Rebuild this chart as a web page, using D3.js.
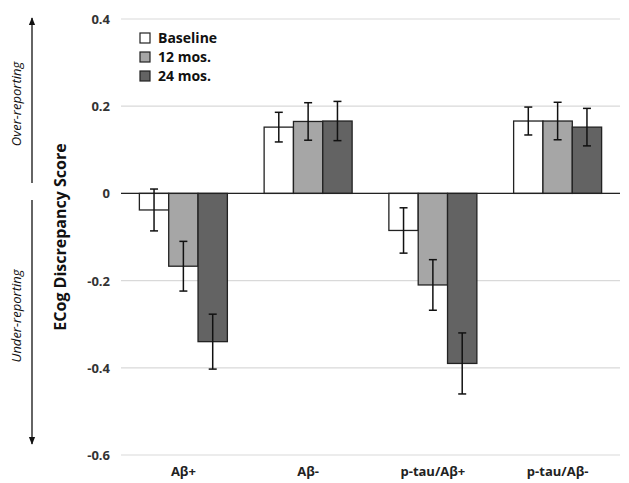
<!doctype html>
<html>
<head>
<meta charset="utf-8">
<script src="https://d3js.org/d3.v7.min.js"></script>
<style>body{margin:0;background:#fff}</style>
</head>
<body>
<svg width="629" height="483"></svg>
<script>
var categories = ["Aβ+", "Aβ-", "p-tau/Aβ+", "p-tau/Aβ-"];
var seriesNames = ["Baseline", "12 mos.", "24 mos."];
var seriesColors = ["#ffffff", "#a6a6a6", "#636363"];
var baseline = [-0.038, 0.152, -0.085, 0.166];
var mos12 = [-0.167, 0.165, -0.21, 0.166];
var mos24 = [-0.34, 0.166, -0.39, 0.152];
var errBaseline = [0.048, 0.034, 0.052, 0.032];
var err12 = [0.057, 0.043, 0.058, 0.043];
var err24 = [0.063, 0.045, 0.07, 0.043];
var yTicks = [0.4, 0.2, 0, -0.2, -0.4, -0.6];

var values = [baseline, mos12, mos24];
var errs = [errBaseline, err12, err24];

var svg = d3.select("svg");
var font = "'Open Sans', sans-serif";

var x = d3.scaleBand().domain(categories).range([121, 620]);
var xs = d3.scaleBand().domain(seriesNames).range([0, 88]);
var y = d3.scaleLinear().domain([-0.6, 0.4]).range([455, 19]);

// gridlines
svg.selectAll(".grid").data(yTicks).enter().append("line")
  .attr("x1", 121).attr("x2", 620)
  .attr("y1", function(d){ return y(d); }).attr("y2", function(d){ return y(d); })
  .attr("stroke", "#d9d9d9").attr("stroke-width", 1.2);

// y tick labels
svg.selectAll(".yt").data(yTicks).enter().append("text")
  .attr("x", 110).attr("y", function(d){ return y(d) + 5; })
  .attr("text-anchor", "end").attr("font-family", font).attr("font-weight", "bold")
  .attr("font-size", 13).attr("fill", "#333")
  .text(function(d){ return d === 0 ? "0" : d.toFixed(1); });

// bars
var flat = [];
categories.forEach(function(c, i){
  seriesNames.forEach(function(s, j){
    flat.push({c: c, s: s, v: values[j][i], e: errs[j][i], col: seriesColors[j]});
  });
});

function bx(d){ return x(d.c) + x.bandwidth()/2 - 44 + xs(d.s); }

svg.selectAll(".bar").data(flat).enter().append("rect")
  .attr("x", bx)
  .attr("y", function(d){ return y(Math.max(0, d.v)); })
  .attr("width", xs.bandwidth())
  .attr("height", function(d){ return Math.abs(y(d.v) - y(0)); })
  .attr("fill", function(d){ return d.col; })
  .attr("stroke", "#222").attr("stroke-width", 1.3);

// zero line
svg.append("line").attr("x1", 121).attr("x2", 620).attr("y1", y(0)).attr("y2", y(0))
  .attr("stroke", "#222").attr("stroke-width", 1.3);

// error bars
var eg = svg.selectAll(".err").data(flat).enter().append("g")
  .attr("stroke", "#111").attr("stroke-width", 1.5);
eg.append("line")
  .attr("x1", function(d){ return bx(d) + xs.bandwidth()/2; })
  .attr("x2", function(d){ return bx(d) + xs.bandwidth()/2; })
  .attr("y1", function(d){ return y(d.v + d.e); })
  .attr("y2", function(d){ return y(d.v - d.e); });
[1, -1].forEach(function(sg){
  eg.append("line")
    .attr("x1", function(d){ return bx(d) + xs.bandwidth()/2 - 4; })
    .attr("x2", function(d){ return bx(d) + xs.bandwidth()/2 + 4; })
    .attr("y1", function(d){ return y(d.v + sg*d.e); })
    .attr("y2", function(d){ return y(d.v + sg*d.e); });
});

// x labels
svg.selectAll(".xl").data(categories).enter().append("text")
  .attr("x", function(d){ return x(d) + x.bandwidth()/2; }).attr("y", 476)
  .attr("text-anchor", "middle").attr("font-family", font).attr("font-weight", "bold")
  .attr("font-size", 13).attr("fill", "#222").text(function(d){ return d; });

// legend
var lg = svg.selectAll(".lg").data(seriesNames).enter().append("g")
  .attr("transform", function(d, i){ return "translate(140," + (33 + i*19) + ")"; });
lg.append("rect").attr("width", 10).attr("height", 10)
  .attr("fill", function(d, i){ return seriesColors[i]; })
  .attr("stroke", "#222").attr("stroke-width", 1.2);
lg.append("text").attr("x", 18).attr("y", 10).attr("font-family", font)
  .attr("font-weight", "bold").attr("font-size", 14).attr("fill", "#111")
  .text(function(d){ return d; });

// y title
svg.append("text").attr("transform", "translate(66,237) rotate(-90)")
  .attr("text-anchor", "middle").attr("font-family", font).attr("font-weight", "bold")
  .attr("font-size", 16).attr("fill", "#111").text("ECog Discrepancy Score");

// arrows
svg.append("defs").append("marker").attr("id", "ah").attr("viewBox", "0 0 10 10")
  .attr("refX", 9).attr("refY", 5).attr("markerWidth", 6).attr("markerHeight", 6)
  .attr("orient", "auto-start-reverse")
  .append("path").attr("d", "M0,1 L10,5 L0,9 z").attr("fill", "#111");
svg.append("line").attr("x1", 32).attr("x2", 32).attr("y1", 183).attr("y2", 18)
  .attr("stroke", "#111").attr("stroke-width", 1.3).attr("marker-end", "url(#ah)");
svg.append("line").attr("x1", 32).attr("x2", 32).attr("y1", 200).attr("y2", 444)
  .attr("stroke", "#111").attr("stroke-width", 1.3).attr("marker-end", "url(#ah)");
svg.append("text").attr("transform", "translate(21,104) rotate(-90)")
  .attr("text-anchor", "middle").attr("font-family", font).attr("font-style", "italic")
  .attr("font-size", 13).attr("fill", "#111").text("Over-reporting");
svg.append("text").attr("transform", "translate(21,316) rotate(-90)")
  .attr("text-anchor", "middle").attr("font-family", font).attr("font-style", "italic")
  .attr("font-size", 13).attr("fill", "#111").text("Under-reporting");
</script>
</body>
</html>
